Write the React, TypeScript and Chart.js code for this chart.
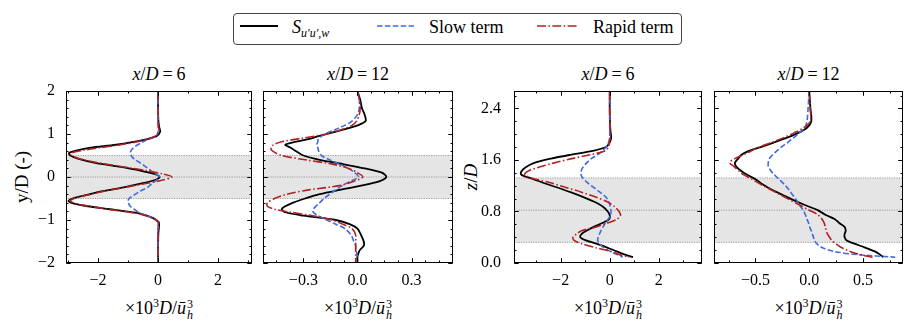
import React, { useEffect, useRef } from "react";
import { Chart, registerables } from "chart.js";

Chart.register(...registerables);

const SERIF = '"Liberation Serif", "Times New Roman", "DejaVu Serif", serif';
const C_TOTAL = "#000000";
const C_SLOW = "#4169e1";
const C_RAPID = "#b22222";

// ---------- axis definitions ----------
const LAT_YRANGE = [-2, 2];
const LAT_YTICKS = [-2, -1, 0, 1, 2];
const VERT_YRANGE = [0, 2.67];
const VERT_YTICKS = [0, 0.8, 1.6, 2.4];
const LAT_BAND = [-0.5, 0, 0.5];
const VERT_BAND = [0.32, 0.82, 1.32];

const P1_XRANGE = [-3.07, 3.13];
const P1_XTICKS = [-2, 0, 2];
const P2_XRANGE = [-0.524, 0.53];
const P2_XTICKS = [-0.3, 0, 0.3];
const P3_XRANGE = [-3.9, 3.76];
const P3_XTICKS = [-2, 0, 2];
const P4_XRANGE = [-0.885, 0.873];
const P4_XTICKS = [-0.5, 0, 0.5];

// ---------- panel 1: x/D = 6, lateral ----------
const P1_Y = [2.0, 1.6, 1.3, 1.15, 1.05, 0.95, 0.85, 0.75, 0.68, 0.62, 0.56, 0.5, 0.42, 0.33, 0.24, 0.15, 0.07, 0.0,
  -0.07, -0.15, -0.24, -0.33, -0.42, -0.5, -0.56, -0.62, -0.68, -0.75, -0.85, -0.95, -1.05, -1.15, -1.3, -1.6, -2.0];
const P1_TOTAL = [0.0, 0.0, 0.01, 0.04, 0.07, -0.05, -0.55, -1.4, -2.25, -2.7, -2.97, -2.93, -2.65, -2.1, -1.3, -0.6, -0.12, 0.05,
  -0.1, -0.55, -1.15, -1.85, -2.4, -2.85, -2.99, -2.8, -2.35, -1.6, -0.6, -0.18, 0.02, 0.03, 0.01, 0.0, 0.0];
const P1_SLOW = [0, 0, 0, 0, 0.0, -0.08, -0.42, -0.68, -0.82, -0.9, -0.92, -0.9, -0.8, -0.6, -0.42, -0.25, -0.08, 0.05,
  -0.05, -0.2, -0.35, -0.6, -0.8, -0.97, -1.0, -0.98, -0.93, -0.8, -0.58, -0.2, 0.0, 0, 0, 0, 0];
const P1_RAPID = [0, 0, 0.0, 0.02, 0.03, -0.1, -0.5, -1.25, -1.95, -2.5, -2.88, -2.88, -2.6, -2.0, -1.2, -0.4, 0.15, 0.46,
  0.15, -0.4, -1.1, -1.8, -2.35, -2.8, -2.92, -2.75, -2.3, -1.65, -0.7, -0.2, 0.0, 0, 0, 0, 0];

// ---------- panel 2: x/D = 12, lateral ----------
const P2_Y = [2.0, 1.8, 1.6, 1.45, 1.3, 1.2, 1.1, 1.0, 0.9, 0.82, 0.75, 0.68, 0.6, 0.5, 0.4, 0.3, 0.2, 0.1, 0.0,
  -0.1, -0.2, -0.3, -0.4, -0.5, -0.6, -0.68, -0.75, -0.82, -0.9, -1.0, -1.1, -1.2, -1.35, -1.5, -1.6, -1.7, -1.85, -2.0];
const P2_TOTAL = [0.0, 0.015, 0.025, 0.04, 0.045, 0.0, -0.08, -0.17, -0.255, -0.34, -0.4, -0.37, -0.34, -0.3, -0.21, -0.08, 0.04, 0.135, 0.16,
  0.12, 0.02, -0.1, -0.21, -0.29, -0.36, -0.4, -0.42, -0.4, -0.3, -0.12, -0.04, 0.0, 0.02, 0.035, 0.035, 0.013, 0.0, 0.0];
const P2_SLOW = [0.0, 0.01, 0.01, 0.0, -0.03, -0.07, -0.125, -0.18, -0.215, -0.22, -0.225, -0.22, -0.215, -0.2, -0.155, -0.1, -0.05, -0.015, 0.005,
  -0.04, -0.085, -0.12, -0.155, -0.185, -0.21, -0.23, -0.245, -0.245, -0.22, -0.17, -0.12, -0.07, -0.035, -0.02, -0.01, -0.008, 0.0, 0.0];
const P2_RAPID = [0.0, 0.01, 0.015, 0.01, -0.005, -0.03, -0.09, -0.17, -0.31, -0.42, -0.465, -0.48, -0.47, -0.42, -0.29, -0.14, -0.05, 0.0, 0.03,
  -0.02, -0.1, -0.27, -0.39, -0.46, -0.5, -0.5, -0.46, -0.37, -0.25, -0.14, -0.08, -0.03, -0.01, -0.01, -0.01, -0.01, -0.01, -0.01];

// ---------- panel 3: x/D = 6, vertical ----------
const P3_Z = [2.67, 2.4, 2.2, 2.05, 1.95, 1.87, 1.8, 1.74, 1.68, 1.62, 1.55, 1.48, 1.42, 1.37, 1.32, 1.25, 1.18, 1.1, 1.02,
  0.95, 0.88, 0.8, 0.74, 0.68, 0.62, 0.56, 0.5, 0.45, 0.4, 0.35, 0.3, 0.24, 0.18, 0.13, 0.09];
const P3_TOTAL = [0, 0, 0.01, 0.03, 0.06, 0.0, -0.15, -0.7, -1.6, -2.4, -3.1, -3.45, -3.6, -3.6, -3.25, -2.75, -2.2, -1.6, -1.05,
  -0.63, -0.3, -0.08, 0.0, -0.02, -0.3, -0.65, -0.95, -1.15, -1.2, -0.97, -0.55, -0.1, 0.28, 0.62, 0.95];
const P3_SLOW = [0, 0, 0, 0, 0, -0.05, -0.15, -0.3, -0.5, -0.75, -0.95, -1.1, -1.17, -1.17, -1.1, -0.92, -0.68, -0.4, -0.15,
  -0.04, 0.02, 0.05, 0.04, -0.07, -0.18, -0.27, -0.36, -0.42, -0.47, -0.49, -0.42, -0.25, 0.02, 0.3, 0.53];
const P3_RAPID = [0, 0, 0, 0.02, 0.02, -0.02, -0.05, -0.2, -0.8, -1.55, -2.3, -2.95, -3.35, -3.47, -3.2, -2.45, -1.85, -1.15, -0.55,
  -0.1, 0.18, 0.38, 0.44, 0.3, -0.1, -0.55, -1.15, -1.35, -1.5, -1.45, -1.15, -0.6, 0.05, 0.4, 0.8];

// ---------- panel 4: x/D = 12, vertical ----------
const P4_Z = [2.67, 2.4, 2.2, 2.1, 2.02, 1.95, 1.87, 1.8, 1.74, 1.68, 1.62, 1.56, 1.5, 1.44, 1.38, 1.3, 1.22, 1.14, 1.06,
  0.98, 0.9, 0.82, 0.75, 0.68, 0.62, 0.56, 0.5, 0.45, 0.4, 0.35, 0.3, 0.24, 0.18, 0.13, 0.09];
const P4_TOTAL = [0.0, 0.012, 0.02, -0.02, -0.1, -0.2, -0.33, -0.45, -0.56, -0.63, -0.66, -0.69, -0.68, -0.64, -0.59, -0.5, -0.43, -0.35, -0.25,
  -0.15, -0.04, 0.08, 0.15, 0.24, 0.28, 0.33, 0.34, 0.33, 0.33, 0.35, 0.42, 0.52, 0.61, 0.66, 0.69];
const P4_SLOW = [0, -0.01, -0.02, -0.04, -0.09, -0.14, -0.2, -0.26, -0.3, -0.34, -0.37, -0.38, -0.38, -0.36, -0.33, -0.28, -0.23, -0.19, -0.155,
  -0.12, -0.09, -0.055, -0.035, -0.02, -0.005, 0.005, 0.02, 0.03, 0.04, 0.05, 0.07, 0.12, 0.23, 0.45, 0.8];
const P4_RAPID = [0, 0.01, 0.01, -0.05, -0.14, -0.23, -0.35, -0.46, -0.54, -0.61, -0.69, -0.74, -0.7, -0.66, -0.62, -0.53, -0.45, -0.36, -0.27,
  -0.18, -0.09, 0.0, 0.08, 0.12, 0.14, 0.15, 0.16, 0.17, 0.19, 0.21, 0.25, 0.3, 0.38, 0.48, 0.59];

// ---------- layout ----------
const PLOT_TOP = 91;
const PLOT_BOTTOM = 263;
const PAD_T = 12;
const PAD_R = 6;
const XAXIS_H = 34;

type Spec = {
  plotLeft: number; plotRight: number;
  xRange: number[]; xTicks: number[]; xMinor: number; xDec: number;
  yRange: number[]; yTicks: number[]; yMinor: number; yDec: number;
  showY: boolean; yPad: number; band: number[];
  ys: number[]; total: number[]; slow: number[]; rapid: number[];
};

const PANELS: Spec[] = [
  { plotLeft: 66, plotRight: 252, xRange: P1_XRANGE, xTicks: P1_XTICKS, xMinor: 1, xDec: 0,
    yRange: LAT_YRANGE, yTicks: LAT_YTICKS, yMinor: 0.2, yDec: 0, showY: true, yPad: 11, band: LAT_BAND,
    ys: P1_Y, total: P1_TOTAL, slow: P1_SLOW, rapid: P1_RAPID },
  { plotLeft: 263, plotRight: 453, xRange: P2_XRANGE, xTicks: P2_XTICKS, xMinor: 0.075, xDec: 1,
    yRange: LAT_YRANGE, yTicks: LAT_YTICKS, yMinor: 0.2, yDec: 0, showY: false, yPad: 11, band: LAT_BAND,
    ys: P2_Y, total: P2_TOTAL, slow: P2_SLOW, rapid: P2_RAPID },
  { plotLeft: 514, plotRight: 702, xRange: P3_XRANGE, xTicks: P3_XTICKS, xMinor: 1, xDec: 0,
    yRange: VERT_YRANGE, yTicks: VERT_YTICKS, yMinor: 0.2, yDec: 1, showY: true, yPad: 13, band: VERT_BAND,
    ys: P3_Z, total: P3_TOTAL, slow: P3_SLOW, rapid: P3_RAPID },
  { plotLeft: 714, plotRight: 903, xRange: P4_XRANGE, xTicks: P4_XTICKS, xMinor: 0.25, xDec: 1,
    yRange: VERT_YRANGE, yTicks: VERT_YTICKS, yMinor: 0.2, yDec: 1, showY: false, yPad: 13, band: VERT_BAND,
    ys: P4_Z, total: P4_TOTAL, slow: P4_SLOW, rapid: P4_RAPID },
];

const TITLES = ["6", "12", "6", "12"];

function fmt(v: number, dec: number) {
  const n = Number(v);
  const s = Math.abs(n).toFixed(dec);
  return (n < -1e-9 ? "\u2212" : "") + s;
}

function stepValues(min: number, max: number, step: number) {
  const out: number[] = [];
  for (let k = Math.ceil(min / step - 1e-9); k * step <= max + 1e-9; k++) out.push(k * step);
  return out;
}

function Panel({ spec }: { spec: Spec }) {
  const ref = useRef<HTMLCanvasElement | null>(null);
  const yW = spec.showY ? 60 : 4;
  const plotW = spec.plotRight - spec.plotLeft;
  const plotH = PLOT_BOTTOM - PLOT_TOP;
  const cw = yW + plotW + PAD_R;
  const ch = PAD_T + plotH + XAXIS_H;

  useEffect(() => {
    const s = spec;
    const pts = (vals: number[]) => s.ys.map((y, i) => ({ x: vals[i], y }));

    const deco = {
      id: "deco",
      beforeDatasetsDraw(chart: any) {
        const { ctx, chartArea: a, scales } = chart;
        const ysc = scales.y;
        ctx.save();
        const yl = ysc.getPixelForValue(s.band[0]);
        const yh = ysc.getPixelForValue(s.band[2]);
        ctx.fillStyle = "#e5e5e5";
        ctx.fillRect(a.left, yh, a.right - a.left, yl - yh);
        ctx.strokeStyle = "#8a8a8a";
        ctx.lineWidth = 0.8;
        ctx.setLineDash([1.2, 1.2]);
        for (const v of s.band) {
          const p = ysc.getPixelForValue(v);
          ctx.beginPath();
          ctx.moveTo(a.left, p);
          ctx.lineTo(a.right, p);
          ctx.stroke();
        }
        ctx.restore();
      },
      afterDatasetsDraw(chart: any) {
        const { ctx, chartArea: a, scales } = chart;
        const xs = scales.x, ysc = scales.y;
        ctx.save();
        ctx.strokeStyle = "#000";
        ctx.lineWidth = 1;
        ctx.setLineDash([]);
        const L = Math.round(a.left) + 0.5, R = Math.round(a.right) - 0.5;
        const T = Math.round(a.top) + 0.5, B = Math.round(a.bottom) - 0.5;
        ctx.strokeRect(L, T, R - L, B - T);
        const seg = (x1: number, y1: number, x2: number, y2: number) => {
          ctx.beginPath(); ctx.moveTo(x1, y1); ctx.lineTo(x2, y2); ctx.stroke();
        };
        const isMajor = (v: number, m: number[]) => m.some((t) => Math.abs(t - v) < 1e-6);
        for (const v of stepValues(xs.min, xs.max, s.xMinor)) {
          const p = Math.round(xs.getPixelForValue(v)) + 0.5;
          const len = isMajor(v, s.xTicks) ? 4 : 2;
          seg(p, B, p, B - len); seg(p, T, p, T + len);
        }
        for (const v of s.xTicks) {
          const p = Math.round(xs.getPixelForValue(v)) + 0.5;
          seg(p, B, p, B - 4); seg(p, T, p, T + 4);
        }
        for (const v of stepValues(ysc.min, ysc.max, s.yMinor)) {
          const p = Math.round(ysc.getPixelForValue(v)) + 0.5;
          const len = isMajor(v, s.yTicks) ? 4 : 2;
          seg(L, p, L + len, p); seg(R, p, R - len, p);
        }
        for (const v of s.yTicks) {
          const p = Math.round(ysc.getPixelForValue(v)) + 0.5;
          seg(L, p, L + 4, p); seg(R, p, R - 4, p);
        }
        ctx.restore();
      },
    };

    const tickFont = { family: SERIF, size: 16 };
    const chart = new Chart(ref.current as HTMLCanvasElement, {
      type: "line",
      data: {
        datasets: [
          { label: "total", data: pts(s.total), borderColor: C_TOTAL, borderWidth: 1.8, order: 2 },
          { label: "slow", data: pts(s.slow), borderColor: C_SLOW, borderWidth: 1.6, borderDash: [5.5, 2.4], order: 1 },
          { label: "rapid", data: pts(s.rapid), borderColor: C_RAPID, borderWidth: 1.6, borderDash: [9, 2.4, 1.5, 2.4], order: 0 },
        ],
      },
      options: {
        responsive: false,
        animation: false,
        devicePixelRatio: 1,
        events: [],
        elements: { point: { radius: 0 }, line: { tension: 0.3, fill: false, borderCapStyle: "butt" } },
        layout: { padding: { top: PAD_T, right: PAD_R, left: 0, bottom: 0 } },
        plugins: { legend: { display: false }, tooltip: { enabled: false }, title: { display: false } },
        scales: {
          x: {
            type: "linear",
            min: s.xRange[0],
            max: s.xRange[1],
            afterBuildTicks: (sc: any) => { sc.ticks = s.xTicks.map((v) => ({ value: v })); },
            afterFit: (sc: any) => { sc.height = XAXIS_H; sc.paddingLeft = 0; sc.paddingRight = 0; },
            grid: { display: false, drawTicks: false },
            border: { display: false },
            ticks: { autoSkip: false, maxRotation: 0, padding: 8, color: "#000", font: tickFont,
              callback: (v: any) => fmt(v, s.xDec) },
          },
          y: {
            type: "linear",
            min: s.yRange[0],
            max: s.yRange[1],
            afterBuildTicks: (sc: any) => { sc.ticks = s.yTicks.map((v) => ({ value: v })); },
            afterFit: (sc: any) => { sc.width = yW; sc.paddingTop = 0; sc.paddingBottom = 0; },
            grid: { display: false, drawTicks: false },
            border: { display: false },
            ticks: { display: s.showY, autoSkip: false, padding: s.yPad, color: "#000", font: tickFont,
              callback: (v: any) => fmt(v, s.yDec) },
          },
        },
      },
      plugins: [deco],
    } as any);
    return () => chart.destroy();
  }, []);

  return (
    <canvas
      ref={ref}
      width={cw}
      height={ch}
      style={{ position: "absolute", left: spec.plotLeft - yW, top: PLOT_TOP - PAD_T, width: cw, height: ch }}
    />
  );
}

function XLabel({ cx }: { cx: number }) {
  return (
    <div style={{ position: "absolute", left: cx, top: 292, transform: "translateX(-50%)", whiteSpace: "nowrap",
      fontFamily: SERIF, fontSize: 18, lineHeight: "22px", color: "#000" }}>
      ×10<span style={{ fontSize: 12, verticalAlign: "7px" }}>3</span>
      <i>D</i>/<i>ū</i>
      <span style={{ display: "inline-flex", flexDirection: "column", verticalAlign: "middle", lineHeight: "11px",
        fontSize: 12, marginLeft: 1 }}>
        <span>3</span>
        <span style={{ fontStyle: "italic" }}>h</span>
      </span>
    </div>
  );
}

function Title({ cx, val }: { cx: number; val: string }) {
  return (
    <div style={{ position: "absolute", left: cx, top: 64, transform: "translateX(-50%)", whiteSpace: "nowrap",
      fontFamily: SERIF, fontSize: 18, lineHeight: "20px", color: "#000" }}>
      <i>x</i>/<i>D</i><span style={{ margin: "0 4px" }}>=</span>{val}
    </div>
  );
}

export default function App() {
  return (
    <div style={{ position: "absolute", left: 0, top: 0, width: 916, height: 328, background: "#fff", overflow: "hidden" }}>
      {PANELS.map((p, i) => (
        <React.Fragment key={i}>
          <Title cx={(p.plotLeft + p.plotRight) / 2} val={TITLES[i]} />
          <XLabel cx={(p.plotLeft + p.plotRight) / 2} />
        </React.Fragment>
      ))}
      <div style={{ position: "absolute", left: 22, top: 177, transform: "translate(-50%,-50%) rotate(-90deg)",
        whiteSpace: "nowrap", fontFamily: SERIF, fontSize: 19, color: "#000" }}>y/D (-)</div>
      <div style={{ position: "absolute", left: 471, top: 177, transform: "translate(-50%,-50%) rotate(-90deg)",
        whiteSpace: "nowrap", fontFamily: SERIF, fontSize: 19, color: "#000" }}><i>z</i>/<i>D</i></div>
      {PANELS.map((p, i) => <Panel key={i} spec={p} />)}
      <div style={{ position: "absolute", left: 233, top: 13, width: 447, height: 30, border: "1px solid #444",
        borderRadius: 4, fontFamily: SERIF, fontSize: 18, color: "#000" }}>
        <svg style={{ position: "absolute", left: 0, top: 0 }} width={447} height={30}>
          <line x1={6} x2={44} y1={12} y2={12} stroke={C_TOTAL} strokeWidth={1.8} />
          <line x1={143} x2={180} y1={12} y2={12} stroke={C_SLOW} strokeWidth={1.6} strokeDasharray="5.5 2.4" />
          <line x1={303} x2={344} y1={12} y2={12} stroke={C_RAPID} strokeWidth={1.6} strokeDasharray="9 2.4 1.5 2.4" />
        </svg>
        <span style={{ position: "absolute", left: 58, top: 0, lineHeight: "26px", whiteSpace: "nowrap" }}>
          <i>S</i><span style={{ fontSize: 12, fontStyle: "italic", verticalAlign: "-4px" }}>u′u′,w</span>
        </span>
        <span style={{ position: "absolute", left: 195, top: 0, lineHeight: "26px", whiteSpace: "nowrap" }}>Slow term</span>
        <span style={{ position: "absolute", left: 359, top: 0, lineHeight: "26px", whiteSpace: "nowrap" }}>Rapid term</span>
      </div>
    </div>
  );
}
